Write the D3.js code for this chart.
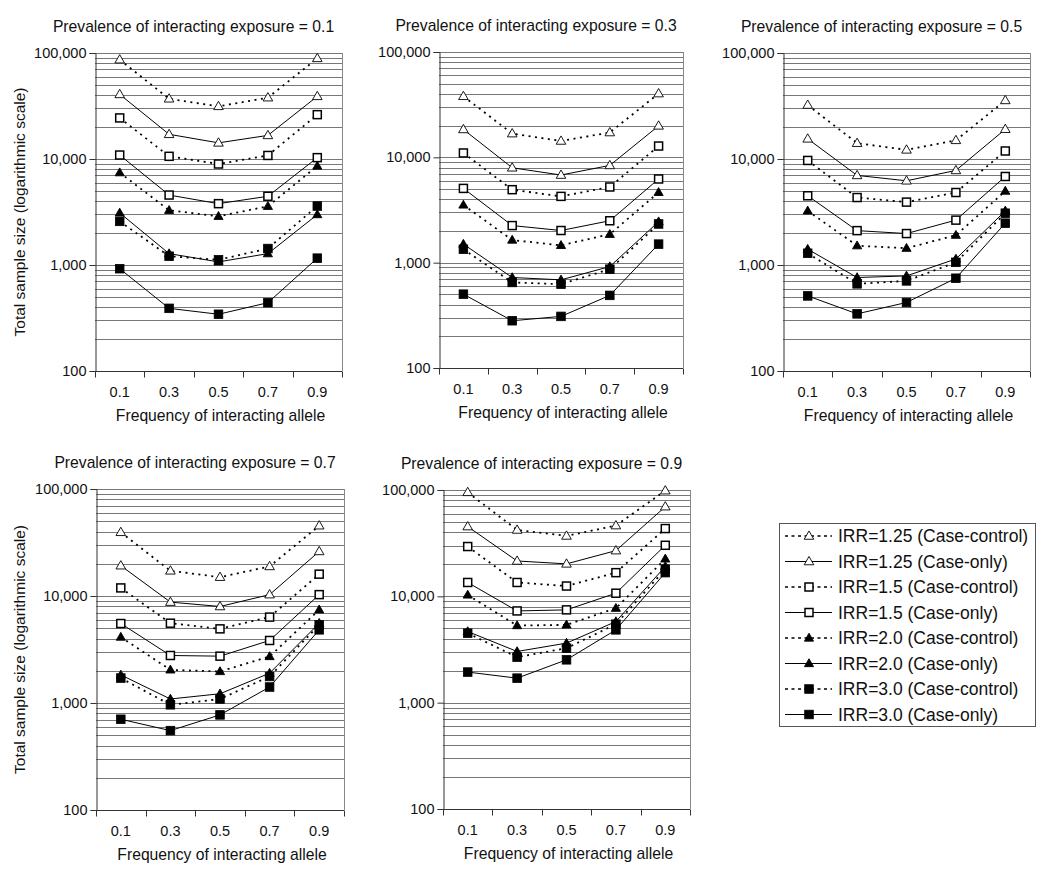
<!DOCTYPE html>
<html>
<head>
<meta charset="utf-8">
<script src="https://cdn.jsdelivr.net/npm/d3@7"></script>
<style>
  body { margin: 0; background: #fff; }
  svg { font-family: "Liberation Sans", Arial, sans-serif; }
</style>
</head>
<body>
<div id="chart"></div>
<script>
// allele frequencies on x axis
const freqs = ['0.1', '0.3', '0.5', '0.7', '0.9'];
const prevalences = ['0.1', '0.3', '0.5', '0.7', '0.9'];

const seriesNames = [
  'IRR=1.25 (Case-control)', 'IRR=1.25 (Case-only)',
  'IRR=1.5 (Case-control)', 'IRR=1.5 (Case-only)',
  'IRR=2.0 (Case-control)', 'IRR=2.0 (Case-only)',
  'IRR=3.0 (Case-control)', 'IRR=3.0 (Case-only)'
];

// sample sizes per panel (prevalence), one row per series
const prev01 = [
  [86500, 37000, 31400, 37900, 89000],
  [40700, 17100, 14200, 16700, 39000],
  [24400, 10600, 8970, 10800, 26200],
  [10900, 4570, 3790, 4450, 10300],
  [7430, 3280, 2880, 3580, 8590],
  [3100, 1280, 1070, 1280, 2990],
  [2580, 1210, 1120, 1430, 3600],
  [923, 390, 343, 441, 1160]
];
const prev03 = [
  [38000, 16800, 14300, 17200, 40300],
  [18400, 7960, 6790, 8380, 19900],
  [11000, 4930, 4260, 5230, 12800],
  [5070, 2250, 2020, 2500, 6230],
  [3530, 1640, 1460, 1860, 4650],
  [1500, 723, 687, 918, 2450],
  [1340, 649, 625, 867, 2330],
  [502, 281, 309, 489, 1500]
];
const prev05 = [
  [32300, 14100, 12200, 15000, 35700],
  [15500, 7000, 6230, 7800, 19100],
  [9690, 4330, 3920, 4830, 11900],
  [4500, 2110, 1980, 2650, 6840],
  [3240, 1520, 1440, 1910, 4980],
  [1410, 762, 789, 1140, 3240],
  [1290, 664, 708, 1060, 3080],
  [511, 346, 443, 750, 2480]
];
const prev07 = [
  [39400, 17200, 15000, 18900, 45400],
  [19200, 8770, 7980, 10300, 26100],
  [11900, 5570, 4930, 6350, 16000],
  [5530, 2780, 2740, 3840, 10300],
  [4130, 2040, 1970, 2720, 7430],
  [1830, 1090, 1220, 1900, 5570],
  [1710, 962, 1090, 1770, 5380],
  [705, 552, 774, 1410, 4830]
];
const prev09 = [
  [95100, 42100, 37000, 46300, 98600],
  [45300, 21500, 20200, 26900, 69700],
  [29400, 13500, 12500, 16700, 43400],
  [13500, 7290, 7460, 10700, 30200],
  [10300, 5310, 5390, 7730, 22500],
  [4670, 3030, 3630, 5790, 19100],
  [4500, 2680, 3250, 5470, 18000],
  [1940, 1700, 2530, 4840, 16700]
];
const panelData = [prev01, prev03, prev05, prev07, prev09];

const yTicks = [100, 1000, 10000, 100000];

// styling per series: dashed?, marker shape, filled?
const styles = [
  { dash: true, shape: 'tri', fill: false },
  { dash: false, shape: 'tri', fill: false },
  { dash: true, shape: 'sq', fill: false },
  { dash: false, shape: 'sq', fill: false },
  { dash: true, shape: 'tri', fill: true },
  { dash: false, shape: 'tri', fill: true },
  { dash: true, shape: 'sq', fill: true },
  { dash: false, shape: 'sq', fill: true }
];

// panel placement in pixels
const boxes = [
  { x0: 95, x1: 342, y0: 53, y1: 371, yTitle: true },
  { x0: 439, x1: 683, y0: 52, y1: 368, yTitle: false },
  { x0: 783, x1: 1030, y0: 53, y1: 371, yTitle: false },
  { x0: 96, x1: 344, y0: 489, y1: 810, yTitle: true },
  { x0: 443, x1: 690, y0: 490, y1: 809, yTitle: false }
];

const svg = d3.select('#chart').append('svg')
  .attr('width', 1050).attr('height', 875);

const DASH = '2,4.5';

function marker(g, st, cx, cy) {
  const fill = st.fill ? '#000' : '#fff';
  if (st.shape === 'tri') {
    const sym = d3.symbol().type(d3.symbolTriangle).size(st.fill ? 36 : 40);
    g.append('path').attr('d', sym())
      .attr('transform', `translate(${cx},${cy + 0.5})`)
      .attr('fill', fill).attr('stroke', '#000').attr('stroke-width', 0.9);
  } else {
    const h = st.fill ? 4.3 : 4;
    g.append('rect').attr('x', cx - h).attr('y', cy - h)
      .attr('width', 2 * h).attr('height', 2 * h)
      .attr('fill', fill).attr('stroke', '#000').attr('stroke-width', st.fill ? 0.8 : 1.5);
  }
}

boxes.forEach((b, pi) => {
  const g = svg.append('g');
  const x = d3.scaleBand().domain(freqs).range([b.x0, b.x1]);
  const y = d3.scaleLog().domain([100, 100000]).range([b.y1, b.y0]);

  // gridlines at every log minor tick
  const grid = y.ticks().filter(v => v > 100);
  g.append('g').selectAll('line').data(grid).enter().append('line')
    .attr('x1', b.x0).attr('x2', b.x1)
    .attr('y1', d => Math.round(y(d)) + 0.5).attr('y2', d => Math.round(y(d)) + 0.5)
    .attr('stroke', '#777').attr('stroke-width', 1);

  // right border
  g.append('line').attr('x1', b.x1 + 0.5).attr('x2', b.x1 + 0.5)
    .attr('y1', b.y0).attr('y2', b.y1).attr('stroke', '#888');

  // y axis
  const yAxis = d3.axisLeft(y).tickValues(yTicks).tickSize(6).tickPadding(3)
    .tickFormat(d3.format(','));
  const ya = g.append('g').attr('transform', `translate(${b.x0 + 0.5},0)`).call(yAxis);
  ya.select('.domain').attr('stroke', '#333');
  ya.selectAll('.tick line').attr('stroke', '#333');
  ya.selectAll('.tick text').attr('font-size', 14.5).attr('fill', '#111')
    .attr('font-family', '"Liberation Sans", Arial, sans-serif');

  // x axis: ticks at category boundaries
  const xa = g.append('g').attr('transform', `translate(0,${b.y1 + 0.5})`);
  xa.append('line').attr('x1', b.x0).attr('x2', b.x1).attr('stroke', '#333');
  const bounds = freqs.map(f => x(f)).concat([b.x1]);
  xa.selectAll('line.tk').data(bounds).enter().append('line').attr('class', 'tk')
    .attr('x1', d => Math.round(d) + 0.5).attr('x2', d => Math.round(d) + 0.5)
    .attr('y1', 0).attr('y2', 6).attr('stroke', '#333');
  xa.selectAll('text').data(freqs).enter().append('text')
    .attr('x', d => x(d) + x.bandwidth() / 2).attr('y', 25)
    .attr('text-anchor', 'middle').attr('font-size', 14.5).attr('fill', '#111')
    .text(d => d);

  // titles
  const cx = (b.x0 + b.x1) / 2;
  g.append('text').attr('x', cx - 25).attr('y', b.y0 - 21)
    .attr('text-anchor', 'middle').attr('font-size', 15.7).attr('fill', '#111')
    .text(`Prevalence of interacting exposure = ${prevalences[pi]}`);
  g.append('text').attr('x', cx + 2).attr('y', b.y1 + 50)
    .attr('text-anchor', 'middle').attr('font-size', 15.7).attr('fill', '#111')
    .text('Frequency of interacting allele');
  if (b.yTitle) {
    g.append('text')
      .attr('transform', `translate(25,${(b.y0 + b.y1) / 2}) rotate(-90)`)
      .attr('text-anchor', 'middle').attr('font-size', 15.5).attr('fill', '#111')
      .text('Total sample size (logarithmic scale)');
  }

  // series lines and markers
  const line = d3.line().x((d, i) => x(freqs[i]) + x.bandwidth() / 2).y(d => y(d));
  panelData[pi].forEach((vals, si) => {
    const st = styles[si];
    g.append('path').attr('d', line(vals)).attr('fill', 'none')
      .attr('stroke', '#000').attr('stroke-width', st.dash ? 1.8 : 1)
      .attr('stroke-dasharray', st.dash ? DASH : null);
  });
  panelData[pi].forEach((vals, si) => {
    const st = styles[si];
    vals.forEach((v, i) => marker(g, st, x(freqs[i]) + x.bandwidth() / 2, y(v)));
  });
});

// legend
const lg = svg.append('g');
lg.append('rect').attr('x', 779.5).attr('y', 523.5).attr('width', 256).attr('height', 203)
  .attr('fill', '#fff').attr('stroke', '#555').attr('stroke-width', 1);
seriesNames.forEach((name, i) => {
  const st = styles[i];
  const yy = 536 + i * 25.5;
  lg.append('line').attr('x1', 785).attr('x2', 832).attr('y1', yy).attr('y2', yy)
    .attr('stroke', '#000').attr('stroke-width', st.dash ? 1.6 : 1.2)
    .attr('stroke-dasharray', st.dash ? '3,3.5' : null);
  marker(lg, st, 809, yy);
  lg.append('text').attr('x', 838).attr('y', yy + 6)
    .attr('font-size', 17.5).attr('fill', '#111').text(name);
});
</script>
</body>
</html>
